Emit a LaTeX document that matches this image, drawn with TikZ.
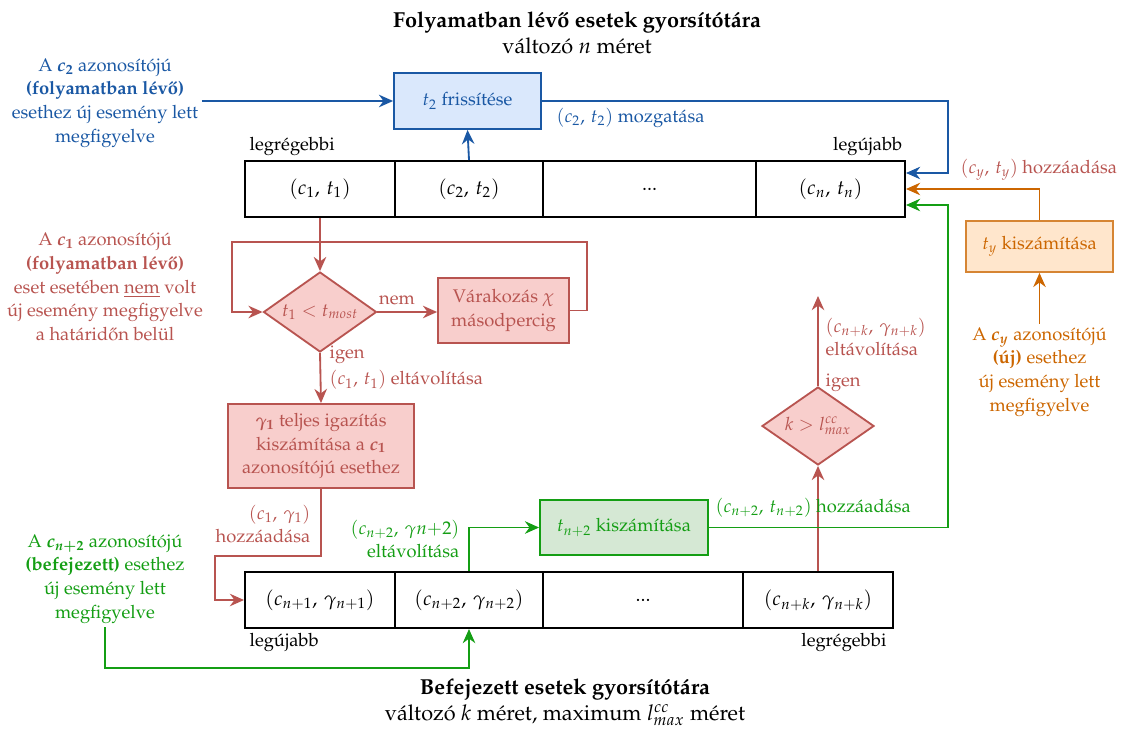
\documentclass[tikz,border=0pt]{standalone}
\usepackage[T1]{fontenc}
\usepackage{mathpazo}
\usetikzlibrary{shapes.geometric,arrows.meta,calc}

\definecolor{bl}{RGB}{26,88,164}
\definecolor{blfill}{RGB}{218,232,252}
\definecolor{rd}{RGB}{184,84,80}
\definecolor{rdfill}{RGB}{248,206,204}
\definecolor{og}{RGB}{204,102,0}
\definecolor{ogfill}{RGB}{255,230,204}
\definecolor{gr}{RGB}{20,158,20}
\definecolor{grfill}{RGB}{213,232,212}

\tikzset{
  txt/.style={font=\fontsize{11}{14.2}\selectfont, inner sep=2pt},
  lbl/.style={txt, align=center},
  cell/.style={font=\fontsize{12}{14.5}\selectfont, draw=black, line width=1.2pt, minimum height=33.6pt, inner sep=0pt},
  box/.style={txt, draw, line width=1.1pt, align=center, inner sep=0pt},
  dia/.style={txt, draw, line width=1.1pt, shape=diamond, inner sep=0pt, shape aspect=1.4},
  conn/.style={line width=1.1pt, -{Stealth[length=8.5pt,width=7.5pt]}},
  ttl/.style={align=center, font=\fontsize{13}{15.5}\selectfont, inner sep=0pt},
}

\begin{document}
\begin{tikzpicture}[x=0.6pt, y=-0.6pt]
\useasboundingbox (0,0) rectangle (1126,729);

% titles
\node[ttl] (ttop) at (577,33) {\textbf{Folyamatban l\'ev\H{o} esetek gyors\'it\'ot\'ara}\\ v\'altoz\'o $n$ m\'eret};
\node[ttl] (tbot) at (565,702) {\textbf{Befejezett esetek gyors\'it\'ot\'ara}\\ v\'altoz\'o $k$ m\'eret, maximum $l^{cc}_{max}$ m\'eret};

% in-progress cache
\node[cell, minimum width=90pt]    (ca1) at (320,189)   {$(c_1,\,t_1)$};
\node[cell, minimum width=88.8pt]  (ca2) at (469,189)   {$(c_2,\,t_2)$};
\node[cell, minimum width=127.8pt] (ca3) at (649.5,189) {...};
\node[cell, minimum width=89.4pt]  (ca4) at (830.5,189) {$(c_n,\,t_n)$};
\node[txt, anchor=south west] (lo1) at ($(ca1.north west)+(2,-1)$) {legr\'egebbi};
\node[txt, anchor=south east] (ln1) at ($(ca4.north east)+(0,-1)$) {leg\'ujabb};

% completed cache
\node[cell, minimum width=90pt]  (cb1) at (320,600) {$(c_{n+1},\,\gamma_{n+1})$};
\node[cell, minimum width=88.8pt](cb2) at (469,600) {$(c_{n+2},\,\gamma_{n+2})$};
\node[cell, minimum width=120pt] (cb3) at (643,600) {...};
\node[cell, minimum width=90pt]  (cb4) at (818,600) {$(c_{n+k},\,\gamma_{n+k})$};
\node[txt, anchor=north west] (ln2) at ($(cb1.south west)+(2,1)$) {leg\'ujabb};
\node[txt, anchor=north east] (lo2) at ($(cb4.south east)+(-4,1)$) {legr\'egebbi};

% blue branch: update of a running case
\node[box, draw=bl, fill=blfill, text=bl, minimum width=88.2pt, minimum height=33.6pt] (bbox) at (467.5,101) {$t_2$ friss\'it\'ese};
\node[lbl, text=bl] (bt) at (105,103) {A {\boldmath$c_2$} azonos\'it\'oj\'u\\ \textbf{(folyamatban l\'ev\H{o})}\\ esethez \'uj esem\'eny lett\\ megfigyelve};
\draw[conn, bl] (bt.east |- bbox.west) -- (bbox.west);
\draw[conn, bl] (ca2.north) -- (bbox.south);
\draw[conn, bl] (bbox.east) -- (948,101) |- ($(ca4.east)+(0,-16)$);
\node[txt, text=bl, anchor=west] (bmv) at (553,118) {$(c_2,\,t_2)$ mozgat\'asa};

% orange branch: new case
\node[box, draw=og!80, fill=ogfill, text=og, minimum width=88.2pt, minimum height=30.6pt] (obox) at (1039.5,246.5) {$t_y$ kisz\'am\'it\'asa};
\node[lbl, text=og] (ot) at (1039.5,372) {A {\boldmath$c_y$} azonos\'it\'oj\'u\\ \textbf{(\'uj)} esethez\\ \'uj esem\'eny lett\\ megfigyelve};
\draw[conn, og] (ot.north) -- (obox.south);
\draw[conn, og] (obox.north) |- (ca4.east);
\node[txt, text=rd, anchor=west] (oadd) at (957,170) {$(c_y,\,t_y)$ hozz\'aad\'asa};

% red branch: timeout of the oldest running case
\node[lbl, text=rd] (rt) at (105,287) {A {\boldmath$c_1$} azonos\'it\'oj\'u\\ \textbf{(folyamatban l\'ev\H{o})}\\ eset eset\'eben \underline{nem} volt\\ \'uj esem\'eny megfigyelve\\ a hat\'arid\H{o}n bel\"ul};
\node[dia, draw=rd, fill=rdfill, text=rd, minimum width=67.8pt, minimum height=48pt] (d1) at (320,312) {$t_1 < t_{most}$};
\node[box, draw=rd, fill=rdfill, text=rd, minimum width=78.6pt, minimum height=39pt] (wait) at (503.5,310.5) {V\'arakoz\'as $\chi$\\ m\'asodpercig};
\node[box, draw=rd, fill=rdfill, text=rd, minimum width=111.6pt, minimum height=50.4pt] (g1box) at (321,446) {{\boldmath$\gamma_1$} teljes igaz\'it\'as\\ kisz\'am\'it\'asa a {\boldmath$c_1$}\\ azonos\'it\'oj\'u esethez};
\draw[conn, rd] (ca1.south) -- (d1.north);
\draw[conn, rd] (d1.east) -- (wait.west |- d1.east);
\node[txt, text=rd, anchor=south] (nem) at (397,309) {nem};
\coordinate (lpA) at (587,242);
\coordinate (lpB) at (232,312);
\draw[conn, rd] (wait.east) -| (lpA) -| (lpB) -- (d1.west);
\draw[conn, rd] (d1.south) -- (g1box.north);
\node[txt, text=rd, anchor=west] (ig1) at (326,355) {igen};
\node[txt, text=rd, anchor=west] (rm1) at (326,380) {$(c_1,\,t_1)$ elt\'avol\'it\'asa};
\coordinate (rturn) at (215,556);
\draw[conn, rd] (g1box.south) |- (rturn) |- (cb1.west);
\node[txt, text=rd, anchor=east, align=right] (addg) at (314,524) {$(c_1,\,\gamma_1)$\\ hozz\'aad\'asa};

% red branch: size limit of the completed cache
\node[dia, draw=rd, fill=rdfill, text=rd, minimum width=67.2pt, minimum height=46.8pt] (d2) at (818,426) {$k > l^{cc}_{max}$};
\coordinate (rend) at (818,296);
\draw[conn, rd] (cb4.north) -- (d2.south);
\draw[conn, rd] (d2.north) -- (rend);
\node[txt, text=rd, anchor=west] (ig2) at (822,383) {igen};
\node[txt, text=rd, anchor=west, align=left] (rm2) at (822,337) {$(c_{n+k},\,\gamma_{n+k})$\\ elt\'avol\'it\'asa};

% green branch: event for a completed case
\node[box, draw=gr, fill=grfill, text=gr, minimum width=100.8pt, minimum height=33pt] (gbox) at (624,527.5) {$t_{n+2}$ kisz\'am\'it\'asa};
\node[lbl, text=gr] (gt) at (105,579) {A {\boldmath$c_{n+2}$} azonos\'it\'oj\'u\\ \textbf{(befejezett)} esethez\\ \'uj esem\'eny lett\\ megfigyelve};
\coordinate (gturn) at (105,668);
\draw[conn, gr] (gt.south) -- (gturn) -| (cb2.south);
\draw[conn, gr] (cb2.north) |- (gbox.west);
\node[txt, text=gr, anchor=east, align=right] (grm) at (463,539) {$(c_{n+2},\,\gamma n{+}2)$\\ elt\'avol\'it\'asa};
\draw[conn, gr] (gbox.east) -- (948,527.5) |- ($(ca4.east)+(0,16)$);
\node[txt, text=gr, anchor=west] (gadd) at (712,508) {$(c_{n+2},\,t_{n+2})$ hozz\'aad\'asa};

\end{tikzpicture}
\end{document}
